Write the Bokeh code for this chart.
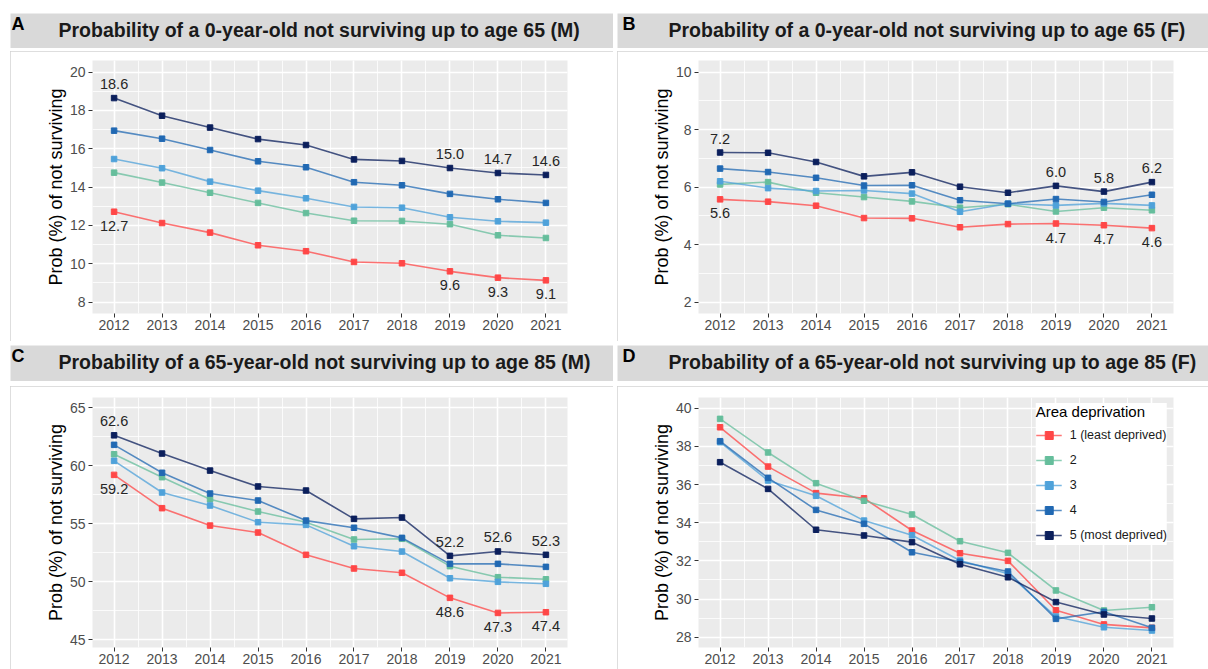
from bokeh.plotting import figure
from bokeh.models import ColumnDataSource, Range1d, SingleIntervalTicker, Legend, LegendItem, Spacer
from bokeh.layouts import row, column
from bokeh.core.properties import value
from bokeh.embed import file_html
from bokeh.resources import INLINE

FONT = "Liberation Sans"

# ---------------- data ----------------
years = [2012, 2013, 2014, 2015, 2016, 2017, 2018, 2019, 2020, 2021]

group_labels = ["1 (least deprived)", "2", "3", "4", "5 (most deprived)"]
group_colors = ["#FF4747", "#66BE9C", "#4FA2DA", "#2169B3", "#0B1F5C"]

panel_letters = ["A", "B", "C", "D"]
panel_titles = [
    "Probability  of a 0-year-old  not surviving up to age 65 (M)",
    "Probability  of a 0-year-old  not surviving up to age 65 (F)",
    "Probability  of a 65-year-old  not surviving up to age 85 (M)",
    "Probability  of a 65-year-old  not surviving up to age 85 (F)",
]
y_axis_title = "Prob (%) of not surviving"
legend_title = "Area deprivation"

# Panel A: 0-year-old to 65, males
a_q1 = [12.71, 12.12, 11.62, 10.96, 10.65, 10.09, 10.02, 9.60, 9.27, 9.13]
a_q2 = [14.75, 14.23, 13.70, 13.17, 12.64, 12.24, 12.23, 12.06, 11.48, 11.34]
a_q3 = [15.46, 14.98, 14.28, 13.81, 13.41, 12.96, 12.92, 12.42, 12.21, 12.14]
a_q4 = [16.94, 16.52, 15.93, 15.34, 15.03, 14.25, 14.09, 13.64, 13.36, 13.17]
a_q5 = [18.64, 17.72, 17.10, 16.50, 16.19, 15.44, 15.36, 14.99, 14.73, 14.63]

# Panel B: 0-year-old to 65, females
b_q1 = [5.57, 5.49, 5.35, 4.92, 4.91, 4.60, 4.71, 4.73, 4.67, 4.57]
b_q2 = [6.09, 6.17, 5.80, 5.65, 5.50, 5.28, 5.40, 5.15, 5.28, 5.19]
b_q3 = [6.20, 5.96, 5.86, 5.88, 5.77, 5.14, 5.42, 5.36, 5.43, 5.36]
b_q4 = [6.64, 6.52, 6.32, 6.05, 6.06, 5.54, 5.42, 5.58, 5.48, 5.73]
b_q5 = [7.20, 7.19, 6.87, 6.37, 6.51, 6.01, 5.80, 6.04, 5.84, 6.17]

# Panel C: 65-year-old to 85, males
c_q1 = [59.22, 56.35, 54.85, 54.25, 52.33, 51.15, 50.78, 48.62, 47.32, 47.38]
c_q2 = [61.00, 59.02, 57.12, 56.06, 55.14, 53.65, 53.71, 51.35, 50.40, 50.22]
c_q3 = [60.43, 57.70, 56.58, 55.14, 54.91, 53.07, 52.61, 50.31, 50.00, 49.83]
c_q4 = [61.81, 59.40, 57.61, 57.01, 55.28, 54.66, 53.79, 51.55, 51.55, 51.29]
c_q5 = [62.63, 61.06, 59.59, 58.22, 57.87, 55.43, 55.54, 52.24, 52.62, 52.33]

# Panel D: 65-year-old to 85, females
d_q1 = [39.00, 36.94, 35.55, 35.28, 33.59, 32.40, 32.00, 29.41, 28.67, 28.49]
d_q2 = [39.44, 37.68, 36.07, 35.15, 34.43, 33.03, 32.42, 30.45, 29.40, 29.57]
d_q3 = [38.22, 36.21, 35.41, 34.11, 33.34, 32.02, 31.32, 29.08, 28.52, 28.35]
d_q4 = [38.27, 36.35, 34.67, 33.94, 32.45, 31.95, 31.44, 28.96, 29.33, 28.49]
d_q5 = [37.17, 35.77, 33.63, 33.33, 32.98, 31.82, 31.14, 29.84, 29.19, 28.98]

# indices of the years whose values are written on the chart
label_idx = [0, 7, 8, 9]


def make_strip(letter, title, width, height, letter_x, title_x):
    s = figure(width=width, height=height, x_range=Range1d(0, width), y_range=Range1d(0, height),
               x_axis_type=None, y_axis_type=None, output_backend="svg",
               toolbar_location=None, min_border=0, frame_align=False)
    s.background_fill_color = "#D9D9D9"
    s.border_fill_color = "#D9D9D9"
    s.outline_line_color = None
    s.text(x=[letter_x], y=[height - 10], text=[letter], text_font=value(FONT),
           text_font_style="bold", text_font_size="18px", text_color="#000000",
           text_baseline="alphabetic", text_align="left")
    s.text(x=[title_x], y=[height - 16], text=[title], text_font=value(FONT),
           text_font_style="bold", text_font_size="19.5px", text_color="#1A1A1A",
           text_baseline="alphabetic", text_align="left")
    return s


def make_panel(series, y_lo, y_hi, y_step, width, height, borders, with_labels, with_legend):
    bl, br, bt, bb = borders
    p = figure(width=width, height=height,
               x_range=Range1d(2011.55, 2021.45), y_range=Range1d(y_lo, y_hi),
               output_backend="svg", toolbar_location=None, frame_align=False,
               min_border_left=bl, min_border_right=br,
               min_border_top=bt, min_border_bottom=bb)
    p.background_fill_color = "#EBEBEB"
    p.border_fill_color = "#FFFFFF"
    p.outline_line_color = None
    p.styles = {"outline": "2px solid #D3D3D3", "outline-offset": "-2px"}

    xt = SingleIntervalTicker(interval=1, num_minor_ticks=2)
    yt = SingleIntervalTicker(interval=y_step, num_minor_ticks=2)
    p.xaxis.ticker = xt
    p.xgrid.ticker = xt
    p.yaxis.ticker = yt
    p.ygrid.ticker = yt
    for g in (p.xgrid, p.ygrid):
        g.grid_line_color = "#FFFFFF"
        g.grid_line_width = 1.6
        g.minor_grid_line_color = "#FFFFFF"
        g.minor_grid_line_width = 0.8
    for ax in (p.xaxis, p.yaxis):
        ax.axis_line_color = None
        ax.major_tick_line_color = "#333333"
        ax.major_tick_line_width = 1
        ax.major_tick_in = 0
        ax.major_tick_out = 4
        ax.minor_tick_line_color = None
        ax.major_label_text_font = FONT
        ax.major_label_text_font_size = "14px"
        ax.major_label_text_color = "#4D4D4D"
        ax.major_label_standoff = 3
    p.xaxis.major_label_standoff = 2
    p.yaxis.axis_label = y_axis_title
    p.yaxis.axis_label_text_font = FONT
    p.yaxis.axis_label_text_font_size = "18px"
    p.yaxis.axis_label_text_font_style = "normal"
    p.yaxis.axis_label_text_color = "#000000"
    p.yaxis.axis_label_standoff = 1

    items = []
    for vals, lab, col in zip(series, group_labels, group_colors):
        src = ColumnDataSource(dict(x=years, y=vals))
        lr = p.line("x", "y", source=src, line_color=col, line_width=1.6, line_alpha=0.75)
        sr = p.scatter("x", "y", source=src, marker="square", size=5.5,
                       fill_color=col, line_color=col)
        items.append(LegendItem(label=lab, renderers=[lr, sr]))

    if with_labels:
        for vals, off in ((series[4], -14), (series[0], 14)):
            src = ColumnDataSource(dict(
                x=[years[i] for i in label_idx],
                y=[vals[i] for i in label_idx],
                t=[f"{vals[i]:.1f}" for i in label_idx]))
            p.text("x", "y", text="t", source=src, y_offset=off,
                   text_font=value(FONT), text_font_size="14.5px", text_color="#262626",
                   text_align="center", text_baseline="middle")

    if with_legend:
        leg = Legend(items=items, location="top_right", title=legend_title,
                     title_text_font=FONT, title_text_font_size="15px",
                     title_text_font_style="normal", title_text_color="#000000",
                     label_text_font=FONT, label_text_font_size="12.5px",
                     label_text_color="#1A1A1A",
                     glyph_width=26, glyph_height=20, label_height=20,
                     label_standoff=8, spacing=5, padding=7, margin=6, title_standoff=5,
                     background_fill_color="#FFFFFF", background_fill_alpha=1.0,
                     border_line_color=None)
        p.add_layout(leg)
    return p


LW, RW = 603, 591

strip_a = make_strip(panel_letters[0], panel_titles[0], LW, 35, 1, 48)
strip_b = make_strip(panel_letters[1], panel_titles[1], RW, 35, 5, 51)
strip_c = make_strip(panel_letters[2], panel_titles[2], LW, 36, 1, 48)
strip_d = make_strip(panel_letters[3], panel_titles[3], RW, 36, 5, 51)

panel_a = make_panel([a_q1, a_q2, a_q3, a_q4, a_q5], 7.4, 20.6, 2, LW, 290, (82, 46, 9, 28), True, False)
panel_b = make_panel([b_q1, b_q2, b_q3, b_q4, b_q5], 1.6, 10.4, 2, RW, 290, (81, 35, 9, 28), True, False)
panel_c = make_panel([c_q1, c_q2, c_q3, c_q4, c_q5], 44.34, 65.89, 5, LW, 283, (82, 46, 11, 22), True, False)
panel_d = make_panel([d_q1, d_q2, d_q3, d_q4, d_q5], 27.46, 40.56, 2, RW, 283, (81, 35, 11, 22), False, True)

left = column(Spacer(width=LW, height=13), strip_a, Spacer(width=LW, height=3), panel_a,
              Spacer(width=LW, height=4), strip_c, Spacer(width=LW, height=5), panel_c)
right = column(Spacer(width=RW, height=13), strip_b, Spacer(width=RW, height=3), panel_b,
               Spacer(width=RW, height=4), strip_d, Spacer(width=RW, height=5), panel_d)
layout = row(Spacer(width=10, height=10), left, Spacer(width=4, height=10), right)

open("out.html", "w").write(file_html(layout, INLINE))
